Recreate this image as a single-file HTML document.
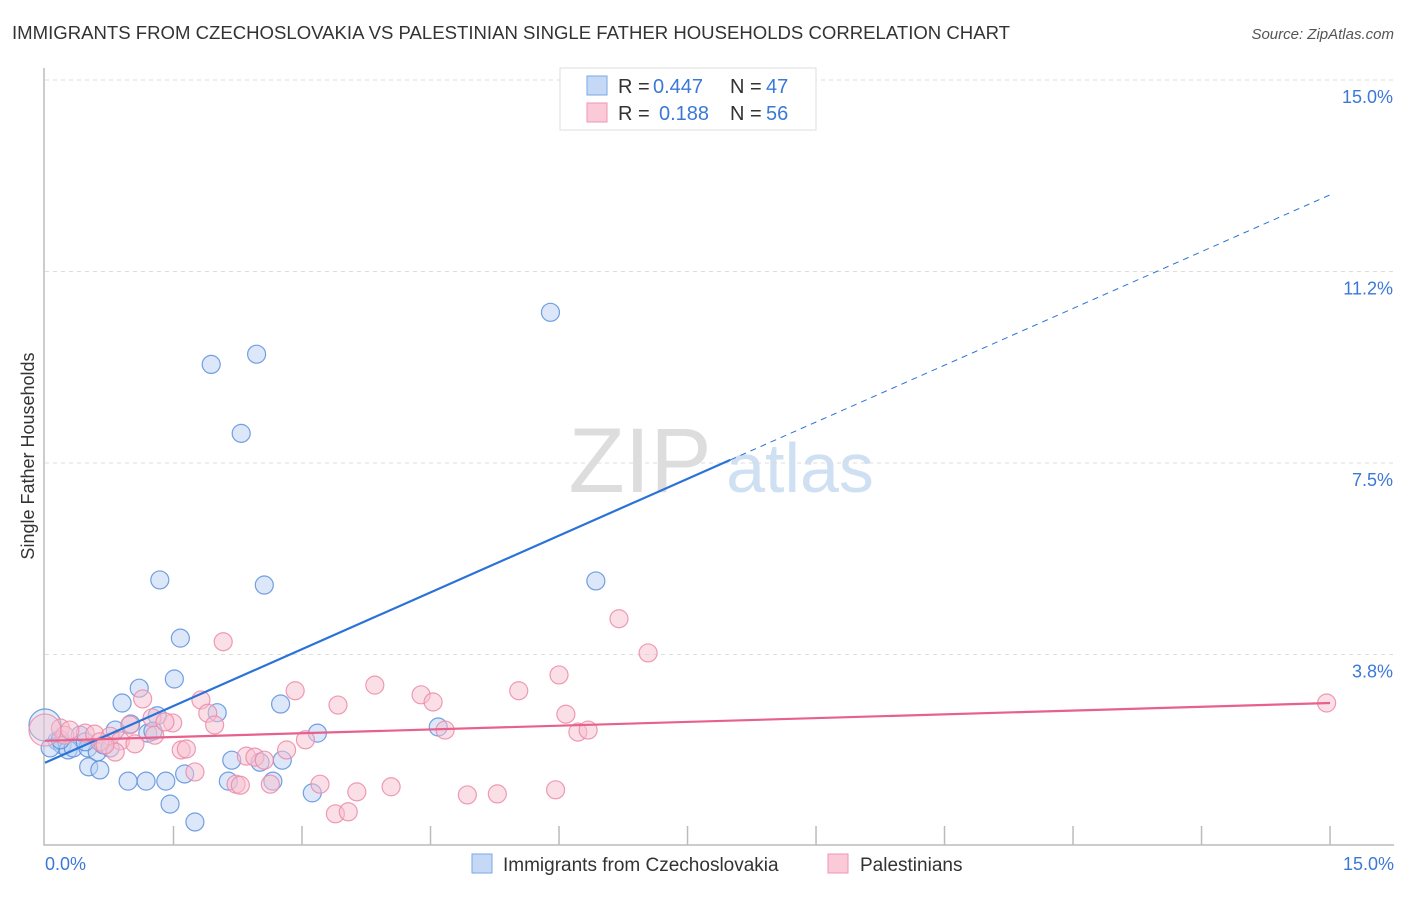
<!DOCTYPE html>
<html><head><meta charset="utf-8"><style>
body{margin:0;background:#fff;font-family:"Liberation Sans",sans-serif;}
svg text{font-family:"Liberation Sans",sans-serif;}
</style></head><body>
<svg id="chart" width="1406" height="892">
<text x="12" y="39" font-size="18" textLength="998" lengthAdjust="spacingAndGlyphs" fill="#333">IMMIGRANTS FROM CZECHOSLOVAKIA VS PALESTINIAN SINGLE FATHER HOUSEHOLDS CORRELATION CHART</text>
<text x="1394" y="39" font-size="15" fill="#555" text-anchor="end" font-style="italic">Source: ZipAtlas.com</text>
<text x="640" y="492" font-size="92" fill="#ddd" font-family="Liberation Serif" text-anchor="middle">ZIP</text>
<text x="800" y="492" font-size="70" fill="#cfe0f3" text-anchor="middle">atlas</text>
<g id="grid"></g><g id="axes"></g><g id="pts"></g><g id="lines"></g>
<text transform="translate(34,456) rotate(-90)" font-size="18" fill="#333" text-anchor="middle">Single Father Households</text>
<text x="45" y="870" font-size="18" fill="#3b78d8">0.0%</text>
<text x="1394" y="870" font-size="18" fill="#3b78d8" text-anchor="end">15.0%</text>
<g>
<rect x="560" y="68" width="256" height="62" fill="#fff" stroke="#ddd"/>
<rect x="587" y="76" width="20" height="19" fill="#c5d9f7" stroke="#7aa6e6"/>
<rect x="587" y="103" width="20" height="19" fill="#fbcad8" stroke="#f096b2"/>
<text x="618" y="93" font-size="20" fill="#333">R =</text><text x="653" y="93" font-size="20" fill="#3b78d8">0.447</text>
<text x="730" y="93" font-size="20" fill="#333">N =</text><text x="766" y="93" font-size="20" fill="#3b78d8">47</text>
<text x="618" y="120" font-size="20" fill="#333">R =</text><text x="659" y="120" font-size="20" fill="#3b78d8">0.188</text>
<text x="730" y="120" font-size="20" fill="#333">N =</text><text x="766" y="120" font-size="20" fill="#3b78d8">56</text>
</g>
<g>
<rect x="472" y="854" width="20" height="19" fill="#c5d9f7" stroke="#7aa6e6"/>
<text x="503" y="871" font-size="19" fill="#333">Immigrants from Czechoslovakia</text>
<rect x="828" y="854" width="20" height="19" fill="#fbcad8" stroke="#f096b2"/>
<text x="860" y="871" font-size="19" fill="#333">Palestinians</text>
</g>
</svg>
<script>
const yTicks=[3.75,7.5,11.25,15];
const yTickLabels=["3.8%","7.5%","11.2%","15.0%"];
const blueX=[5.9,2.47,1.94,2.29,1.34,2.56,6.43,1.58,1.51,1.1,0.9,2.75,1.31,2.01,1.0,0.82,1.2,1.26,3.18,4.59,0.14,0.2,0.41,0.06,0.27,0.33,0.5,0.61,0.68,0.76,0.51,0.64,2.18,2.51,2.77,1.63,0.97,1.18,1.41,2.14,2.66,3.12,1.46,1.75,0.0,0.18,0.47];
const blueY=[10.45,9.63,9.43,8.08,5.21,5.11,5.19,4.07,3.27,3.09,2.8,2.78,2.55,2.61,2.39,2.27,2.21,2.25,2.21,2.33,2.06,1.98,2.17,1.92,1.88,1.92,1.92,1.84,1.98,1.92,1.55,1.49,1.68,1.64,1.68,1.41,1.27,1.27,1.27,1.27,1.27,1.04,0.82,0.47,2.37,2.08,2.04];
const pinkX=[14.96,6.7,7.04,2.08,6.0,3.85,2.92,4.39,5.53,4.53,1.14,1.82,3.42,1.9,6.08,1.25,1.49,1.98,4.67,6.22,6.34,0.18,0.47,0.58,0.76,0.88,1.05,0.23,0.64,0.82,1.59,1.65,3.04,2.82,2.35,2.45,2.56,1.75,2.23,2.28,2.63,3.21,3.64,4.04,4.93,5.28,5.96,3.39,3.54,1.28,0.29,0.7,0.99,1.4,0.0];
const pinkY=[2.8,4.45,3.78,4.0,3.35,3.15,3.04,2.96,3.04,2.82,2.88,2.86,2.76,2.6,2.58,2.51,2.41,2.37,2.27,2.23,2.27,2.31,2.21,2.19,2.15,2.06,2.0,2.17,2.04,1.84,1.88,1.9,2.08,1.88,1.76,1.74,1.68,1.45,1.21,1.19,1.21,1.21,1.06,1.16,1.0,1.02,1.1,0.63,0.67,2.17,2.27,1.98,2.37,2.43,2.27];
const blueFit=[1.63,12.75];const pinkFit=[2.06,2.8];
const X=v=>45+v*85.67, Y=v=>846-v*51.07;
const NS="http://www.w3.org/2000/svg";
function mk(t,a,p){const e=document.createElementNS(NS,t);for(const k in a)e.setAttribute(k,a[k]);p.appendChild(e);return e;}
const grid=document.getElementById('grid'),axes=document.getElementById('axes'),pts=document.getElementById('pts'),lines=document.getElementById('lines');
yTicks.forEach((t,i)=>{
 const l=mk('line',{x1:45,x2:1394,y1:Y(t),y2:Y(t),stroke:'#ddd','stroke-dasharray':'4,4'},grid);
 
 
 const tx=mk('text',{x:1393,y:Y(t)+23,'font-size':18,fill:'#3b78d8','text-anchor':'end'},grid);
 tx.textContent=yTickLabels[i];
 
 
});
const ax=mk('path',{d:'M44,68 V845 H1394',fill:'none',stroke:'#bbb','stroke-width':1.5},axes);


for(let i=1;i<=10;i++){const xv=i*1.5;const tk=mk('line',{x1:X(xv),x2:X(xv),y1:826,y2:845,stroke:'#bbb','stroke-width':1.5},axes);
 
 }
function dots(xs,ys,fill,stroke,name){xs.forEach((x,i)=>{const big=x===0&&i>=xs.length-3&&(ys[i]>2.2);
 const c=mk('circle',{cx:X(x),cy:Y(ys[i]),r:big?16:9,fill:fill,stroke:stroke,'stroke-width':1.2,'fill-opacity':big?0.4:0.5,'stroke-opacity':0.85},pts);
 
 });}
dots(blueX,blueY,'#b9d1f3','#5b8fdc','czech-point');
dots(pinkX,pinkY,'#f8c0d0','#ec8aa8','palestinian-point');
const bx=8.0;
const b1=mk('line',{x1:X(0),y1:Y(blueFit[0]),x2:X(bx),y2:Y(blueFit[0]+(blueFit[1]-blueFit[0])*bx/15),stroke:'#2a72d8','stroke-width':2.2},lines);


const b2=mk('line',{x1:X(bx),y1:Y(blueFit[0]+(blueFit[1]-blueFit[0])*bx/15),x2:X(15),y2:Y(blueFit[1]),stroke:'#2a72d8','stroke-width':1,'stroke-dasharray':'6,5'},lines);


const p1=mk('line',{x1:X(0),y1:Y(pinkFit[0]),x2:X(15),y2:Y(pinkFit[1]),stroke:'#e8608c','stroke-width':2.2},lines);


</script>
</body></html>
